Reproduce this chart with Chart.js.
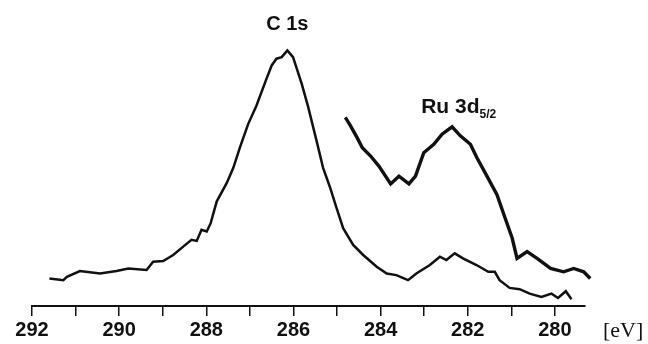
<!DOCTYPE html>
<html>
<head>
<meta charset="utf-8">
<script src="https://cdn.jsdelivr.net/npm/chart.js@4"></script>
<style>
  body { margin: 0; background: #fff; }
  #wrap { width: 648px; height: 344px; position: relative; }
</style>
</head>
<body>
<div id="wrap"><canvas id="xps"></canvas></div>
<script>
// binding energy [eV] and intensity (arb. units)
const c1sEnergy = [291.60, 291.28, 291.20, 290.90, 290.44, 290.06, 289.79, 289.37, 289.22, 288.99,
  288.76, 288.53, 288.34, 288.22, 288.11, 287.99, 287.90, 287.76, 287.53, 287.38,
  287.23, 287.04, 286.85, 286.62, 286.50, 286.39, 286.27, 286.14, 286.01, 285.81,
  285.66, 285.47, 285.32, 285.17, 285.01, 284.86, 284.63, 284.40, 284.09, 283.86,
  283.64, 283.37, 283.18, 282.87, 282.64, 282.49, 282.30, 282.11, 281.80, 281.53,
  281.38, 281.27, 281.04, 280.81, 280.58, 280.31, 280.08, 279.93, 279.75, 279.62];
const c1sIntensity = [27.3, 25.7, 29, 34.7, 32.3, 34.7, 37.3, 35.7, 44, 44.7,
  50.7, 59, 65.7, 64.7, 75.7, 74, 82.3, 104, 122.3, 137.3,
  157.3, 180.7, 199, 225.7, 239, 245.7, 247.3, 254, 247.3, 220.7,
  197.3, 164, 137.3, 119, 97.3, 77.3, 60.7, 50.7, 39, 32.3,
  30.7, 25.7, 32.3, 40.7, 49, 45.7, 52.3, 47.3, 40.7, 34,
  34, 25.7, 18, 16.7, 12.3, 9, 12.3, 8, 14.7, 6.7];

// Ru 3d5/2 region, magnified trace
const ruEnergy = [284.81, 284.69, 284.54, 284.42, 284.23, 284.04, 283.77, 283.58, 283.35, 283.20,
  283.01, 282.78, 282.59, 282.36, 282.17, 281.94, 281.79, 281.56, 281.33, 281.17,
  280.98, 280.87, 280.64, 280.41, 280.10, 279.80, 279.57, 279.34, 279.19];
const ruIntensity = [187.3, 179, 167.3, 157.3, 149, 139, 121.3, 129, 121.3, 129,
  152.3, 160.7, 170.7, 178, 169, 160.7, 147.3, 129, 110.7, 90.7,
  67.3, 47.3, 54, 47.3, 37.3, 34, 37.3, 34, 27.3];

const tickValues = [280, 281, 282, 283, 284, 285, 286, 287, 288, 289, 290, 291, 292];

const toPoints = (xs, ys) => xs.map((x, i) => ({ x: x, y: ys[i] }));

const peakLabels = {
    id: 'peakLabels',
    afterDraw(chart) {
        const { ctx, scales } = chart;
        const xs = scales.x, ys = scales.y;
        ctx.save();
        ctx.fillStyle = '#111';
        ctx.textBaseline = 'alphabetic';

        ctx.font = 'bold 20px "Liberation Sans", Arial, sans-serif';
        ctx.textAlign = 'center';
        ctx.fillText('C 1s', xs.getPixelForValue(286.14), ys.getPixelForValue(274));

        ctx.textAlign = 'left';
        const rx = xs.getPixelForValue(283.07);
        const ry = ys.getPixelForValue(192);
        ctx.font = 'bold 21px "Liberation Sans", Arial, sans-serif';
        ctx.fillText('Ru 3d', rx, ry);
        const w = ctx.measureText('Ru 3d').width;
        ctx.font = 'bold 12px "Liberation Sans", Arial, sans-serif';
        ctx.fillText('5/2', rx + w, ry + 5);

        ctx.font = '22px "Liberation Serif", "Times New Roman", serif';
        ctx.fillText('[eV]', 603, 337);
        ctx.restore();
    }
};

const ctx = document.getElementById('xps').getContext('2d');
new Chart(ctx, {
    type: 'line',
    data: {
        datasets: [{
            label: 'C 1s',
            data: toPoints(c1sEnergy, c1sIntensity),
            borderColor: '#111',
            borderWidth: 2.5,
            pointRadius: 0,
            tension: 0,
            clip: false
        }, {
            label: 'Ru 3d5/2',
            data: toPoints(ruEnergy, ruIntensity),
            borderColor: '#111',
            borderWidth: 3.4,
            pointRadius: 0,
            tension: 0,
            clip: false
        }]
    },
    options: {
        responsive: true,
        maintainAspectRatio: false,
        animation: false,
        layout: { padding: { left: 32, right: 63, top: 0, bottom: 0 } },
        plugins: {
            legend: { display: false },
            tooltip: { enabled: false }
        },
        scales: {
            x: {
                type: 'linear',
                reverse: true,
                min: 279.31,
                max: 292,
                afterBuildTicks: (scale) => {
                    scale.ticks = tickValues.map(v => ({ value: v }));
                },
                ticks: {
                    autoSkip: false,
                    maxRotation: 0,
                    padding: 2,
                    color: '#111',
                    font: { family: '"Liberation Sans", Arial, sans-serif', size: 20, weight: 'bold' },
                    callback: (v) => (v % 2 === 0 ? String(v) : '')
                },
                grid: {
                    drawOnChartArea: false,
                    drawTicks: true,
                    tickLength: 10,
                    color: '#111',
                    lineWidth: 1.5
                },
                border: { display: true, color: '#111', width: 2 }
            },
            y: {
                display: false,
                min: 0,
                max: 304
            }
        }
    },
    plugins: [peakLabels]
});
</script>
</body>
</html>
